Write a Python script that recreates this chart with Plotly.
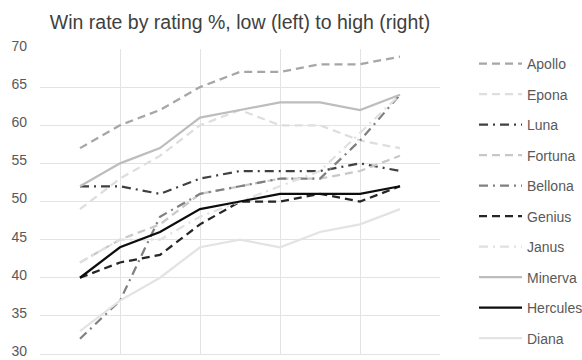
import plotly.graph_objects as go

# Rating buckets, low (left) to high (right)
buckets = [1, 2, 3, 4, 5, 6, 7, 8, 9]

names = ["Apollo", "Epona", "Luna", "Fortuna", "Bellona",
         "Genius", "Janus", "Minerva", "Hercules", "Diana"]

apollo   = [57, 60, 62, 65, 67, 67, 68, 68, 69]
epona    = [49, 53, 56, 60, 62, 60, 60, 58, 57]
luna     = [52, 52, 51, 53, 54, 54, 54, 55, 54]
fortuna  = [42, 45, 47, 51, 52, 53, 53, 54, 56]
bellona  = [32, 37, 48, 51, 52, 53, 53, 58, 64]
genius   = [40, 42, 43, 47, 50, 50, 51, 50, 52]
janus    = [42, 45, 45, 48, 50, 52, 54, 59, 64]
minerva  = [52, 55, 57, 61, 62, 63, 63, 62, 64]
hercules = [40, 44, 46, 49, 50, 51, 51, 51, 52]
diana    = [33, 37, 40, 44, 45, 44, 46, 47, 49]

series = [apollo, epona, luna, fortuna, bellona,
          genius, janus, minerva, hercules, diana]

styles = [
    ("#a6a6a6", "8px,5px"),
    ("#dedede", "8px,5px"),
    ("#404040", "9px,5px,2px,5px"),
    ("#c8c8c8", "8px,5px"),
    ("#808080", "9px,5px,2px,5px"),
    ("#262626", "8px,5px"),
    ("#e0e0e0", "9px,5px,2px,5px"),
    ("#bdbdbd", "solid"),
    ("#0d0d0d", "solid"),
    ("#e3e3e3", "solid"),
]

fig = go.Figure()
for name, vals, (color, dash) in zip(names, series, styles):
    fig.add_trace(go.Scatter(
        x=buckets, y=vals, name=name, mode="lines",
        legendgroup=name,
        line=dict(color=color, width=2.25, dash=dash),
    ))

fig.update_layout(
    width=582, height=360,
    margin=dict(l=40, r=142, t=49, b=6, autoexpand=False),
    paper_bgcolor="white", plot_bgcolor="white",
    font=dict(family="Liberation Sans, Arial, sans-serif", color="#595959", size=12),
    title=dict(text="Win rate by rating %, low (left) to high (right)",
               x=240 / 582, xanchor="center", y=1 - 22 / 360, yanchor="middle",
               font=dict(size=19.5, color="#404040")),
    showlegend=True,
    legend=dict(x=(474 - 40) / 400, xanchor="left", y=1 + 1 / 305, yanchor="top",
                tracegroupgap=9.3, itemwidth=43, maxheight=1,
                font=dict(size=14, color="#595959"),
                bgcolor="rgba(0,0,0,0)"),
    xaxis=dict(range=[0, 10], dtick=2, tick0=0, showticklabels=False,
               showgrid=True, gridcolor="#e3e3e3", gridwidth=1,
               zeroline=False, showline=True, linecolor="#e3e3e3",
               linewidth=1, ticks=""),
    yaxis=dict(range=[30, 70], dtick=5, tick0=30, showgrid=True,
               gridcolor="#e3e3e3", gridwidth=1, zeroline=False,
               showline=False, ticks="", ticklabelstandoff=12,
               ticklabelshift=-3, ticklabeloverflow="allow",
               tickfont=dict(size=14, color="#595959")),
)

fig.write_html("out.html")
